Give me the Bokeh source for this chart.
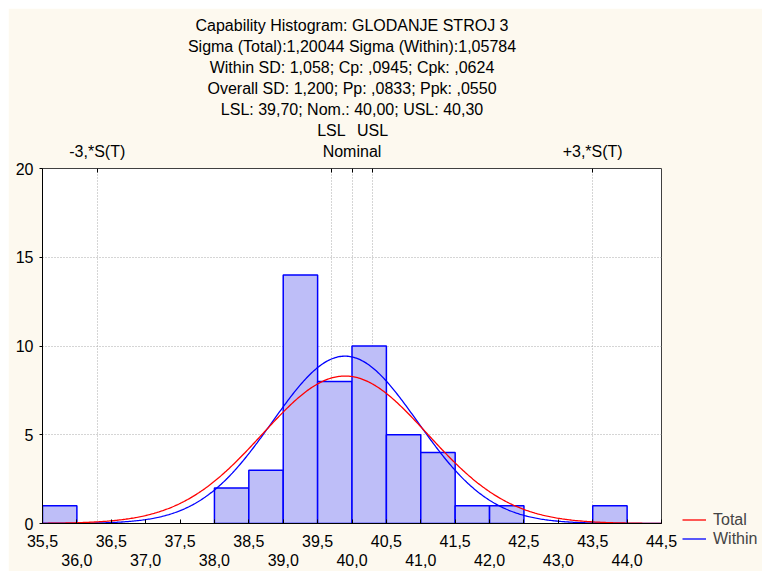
import numpy as np
from bokeh.plotting import figure
from bokeh.models import (LinearAxis, FixedTicker, Title, Legend, LegendItem,
                          ColumnDataSource, Range1d)
from bokeh.embed import file_html
from bokeh.resources import INLINE

# ---- data ----
bin_width = 0.5
bin_left = [35.5, 38.0, 38.5, 39.0, 39.5, 40.0, 40.5, 41.0, 41.5, 42.0, 43.5]
counts = [1, 2, 3, 14, 8, 10, 5, 4, 1, 1, 1]
n_total = 50
mean = 39.898
sigma_total = 1.20044
sigma_within = 1.05784
lsl, nominal, usl = 39.70, 40.00, 40.30

title_lines = [
    "Capability Histogram: GLODANJE STROJ 3",
    "Sigma (Total):1,20044 Sigma (Within):1,05784",
    "Within SD: 1,058; Cp: ,0945; Cpk: ,0624",
    "Overall SD: 1,200; Pp: ,0833; Ppk: ,0550",
    "LSL: 39,70; Nom.: 40,00; USL: 40,30",
]
x_ticks_row1 = [35.5, 36.5, 37.5, 38.5, 39.5, 40.5, 41.5, 42.5, 43.5, 44.5]
x_ticks_row2 = [36.0, 37.0, 38.0, 39.0, 40.0, 41.0, 42.0, 43.0, 44.0]
y_ticks = [0, 5, 10, 15, 20]

FONT = "Liberation Sans"
FS = "16px"
BG = "#FDF9EF"

p = figure(frame_width=619, frame_height=355, x_range=Range1d(35.5, 44.5), y_range=Range1d(0, 20),
           output_backend="svg", toolbar_location=None, title=None,
           x_axis_location=None, y_axis_location=None,
           min_border_left=34, min_border_right=101, min_border_top=160, min_border_bottom=48)
p.margin = (8, 0, 0, 8)
p.background_fill_color = "white"
p.border_fill_color = BG
p.outline_line_color = "#404040"
p.outline_line_width = 1

# bars
src = ColumnDataSource(dict(left=bin_left, right=[b + bin_width for b in bin_left],
                            top=counts, bottom=[0] * len(counts)))
p.quad(left="left", right="right", top="top", bottom="bottom", source=src,
       fill_color="#BEBEF8", line_color="#0000FF", line_width=1.5)

# normal curves
xs = np.linspace(35.5, 44.5, 500)
def normal_counts(s):
    return n_total * bin_width * np.exp(-0.5 * ((xs - mean) / s) ** 2) / (s * np.sqrt(2 * np.pi))
r_within = p.line(xs, normal_counts(sigma_within), line_color="#0000FF", line_width=1.3)
r_total = p.line(xs, normal_counts(sigma_total), line_color="#FF0000", line_width=1.3)

# axes
def style(ax, tick_in=0, tick_out=0):
    ax.major_label_text_font = FONT
    ax.major_label_text_font_size = FS
    ax.major_label_text_color = "black"
    ax.axis_line_color = "black"
    ax.major_tick_line_color = "black"
    ax.major_tick_in = tick_in
    ax.major_tick_out = tick_out
    ax.minor_tick_line_color = None

yax = LinearAxis(ticker=FixedTicker(ticks=y_ticks))
style(yax, 0, 3)
yax.major_label_standoff = 6
p.add_layout(yax, "left")

fmt = {v: f"{v:.1f}".replace(".", ",") for v in x_ticks_row1 + x_ticks_row2}
xax1 = LinearAxis(ticker=FixedTicker(ticks=x_ticks_row1 + x_ticks_row2),
                  major_label_overrides={**{v: fmt[v] for v in x_ticks_row1},
                                         **{v: "" for v in x_ticks_row2}})
style(xax1, 4, 0)
xax1.major_label_standoff = 11
p.add_layout(xax1, "below")

xax2 = LinearAxis(ticker=FixedTicker(ticks=x_ticks_row2),
                  major_label_overrides={v: fmt[v] for v in x_ticks_row2})
style(xax2)
xax2.axis_line_color = None
xax2.major_tick_line_color = None
xax2.major_label_standoff = 4
p.add_layout(xax2, "below")

m_lo = mean - 3 * sigma_total
m_hi = mean + 3 * sigma_total
top_ticks = [m_lo, lsl, nominal, usl, m_hi]
tax1 = LinearAxis(ticker=FixedTicker(ticks=top_ticks),
                  major_label_overrides={m_lo: "-3,*S(T)", lsl: "", nominal: "Nominal",
                                         usl: "", m_hi: "+3,*S(T)"})
style(tax1, 4, 0)
tax1.axis_line_color = None
tax1.major_label_standoff = 9
p.add_layout(tax1, "above")

tax2 = LinearAxis(ticker=FixedTicker(ticks=[lsl, usl]),
                  major_label_overrides={lsl: "LSL", usl: "USL"})
style(tax2)
tax2.axis_line_color = None
tax2.major_tick_line_color = None
tax2.major_label_standoff = 1
p.add_layout(tax2, "above")

# title lines (nearest the plot first)
for txt in reversed(title_lines):
    t = Title(text=txt, align="center", text_font=FONT, text_font_size=FS,
              text_font_style="normal", text_color="black", standoff=2)
    p.add_layout(t, "above")

# grids
p.xgrid.ticker = FixedTicker(ticks=top_ticks)
p.xgrid.grid_line_color = "#AAAAAA"
p.xgrid.grid_line_dash = "1 2"
p.ygrid.ticker = FixedTicker(ticks=y_ticks)
p.ygrid.grid_line_color = "#AAAAAA"
p.ygrid.grid_line_dash = "1 2"

# legend
legend = Legend(items=[LegendItem(label="Total", renderers=[r_total]),
                       LegendItem(label="Within", renderers=[r_within])],
                location=(21, -25), orientation="vertical")
legend.label_text_font = FONT
legend.label_text_font_size = FS
legend.glyph_width = 24
legend.glyph_height = 19
legend.label_height = 19
legend.label_standoff = 7
legend.spacing = 0
legend.padding = 0
legend.margin = 0
legend.border_line_color = None
legend.background_fill_alpha = 0
p.add_layout(legend, "right")

open("out.html", "w").write(file_html(p, INLINE))
